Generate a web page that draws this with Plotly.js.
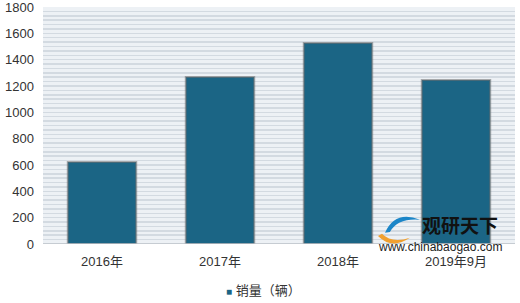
<!DOCTYPE html>
<html><head><meta charset="utf-8">
<script src="https://cdn.plot.ly/plotly-3.0.1.min.js"></script>
<style>html,body{margin:0;padding:0;background:#fff;}#c{width:520px;height:303px;}</style>
</head><body><div id="c"></div>
<script>
var categories = ['2016年','2017年','2018年','2019年9月'];
var sales = [623, 1268, 1527, 1245];
var seriesName = '销量（辆）';
var yTicks = [0,200,400,600,800,1000,1200,1400,1600,1800];

var font = 'Liberation Sans, Noto Sans CJK SC, sans-serif';
var trace = {
  type:'bar', x:categories, y:sales, name:seriesName,
  marker:{color:'#1b6585', line:{color:'rgba(110,110,110,0.55)', width:2}},
  hoverinfo:'skip', showlegend:false
};
var layout = {
  width:520, height:303,
  margin:{l:43, r:5, t:7, b:59, autoexpand:false},
  paper_bgcolor:'#ffffff', plot_bgcolor:'#edf1f5',
  bargap:0.42,
  showlegend:false,
  xaxis:{type:'category', showgrid:false, zeroline:false, showline:false,
    ticks:'', tickfont:{family:font, size:13, color:'#333'}, ticklabelstandoff:8},
  yaxis:{range:[0,1800], tickvals:yTicks, ticktext:yTicks.map(String),
    showgrid:true, gridcolor:'#d3dae1', gridwidth:1.5, zeroline:false,
    showline:false, ticks:'', tickfont:{family:font, size:13, color:'#333'},
    ticklabelstandoff:8, ticklabeloverflow:'allow',
    minor:{dtick:200/6, tick0:0, showgrid:true, gridcolor:'#d3dae1', gridwidth:1.5}},
  shapes:[
    {type:'line', xref:'paper', yref:'y', x0:0, x1:1, y0:0, y1:0, line:{color:'#b9bfc6', width:1.5}},
    {type:'path', xref:'paper', yref:'paper', layer:'above',
      path:'M 0.7097 0.034 Q 0.739 -0.025 0.7775 0.026 Q 0.739 0.001 0.7182 0.043 Z', fillcolor:'#f0a030', line:{width:0}},
    {type:'path', xref:'paper', yref:'paper', layer:'above',
      path:'M 0.7246 0.047 Q 0.746 0.144 0.799 0.102 Q 0.752 0.110 0.735 0.051 Z', fillcolor:'#1c86c8', line:{width:0}}
  ],
  annotations:[
    {xref:'paper', yref:'paper', x:0.801, y:(244-224.5)/237, xanchor:'left', yanchor:'middle', showarrow:false,
      borderpad:0, text:'<b>观研天下</b>', font:{family:'Noto Sans CJK SC', size:19, color:'#111'}},
    {xref:'paper', yref:'paper', x:0.708, y:(244-246.5)/237, xanchor:'left', yanchor:'middle', showarrow:false,
      borderpad:0, text:'www.chinabaogao.com', font:{family:'Liberation Sans', size:12, color:'#222'}},
    {xref:'paper', yref:'paper', x:(224-43)/472, y:(244-290)/237, xanchor:'left', yanchor:'middle', showarrow:false,
      text:'<span style="color:#1b6585;font-size:10px">■</span> ' + seriesName,
      font:{family:font, size:13, color:'#333'}}
  ]
};
Plotly.newPlot('c',[trace],layout,{staticPlot:true});
</script></body></html>
